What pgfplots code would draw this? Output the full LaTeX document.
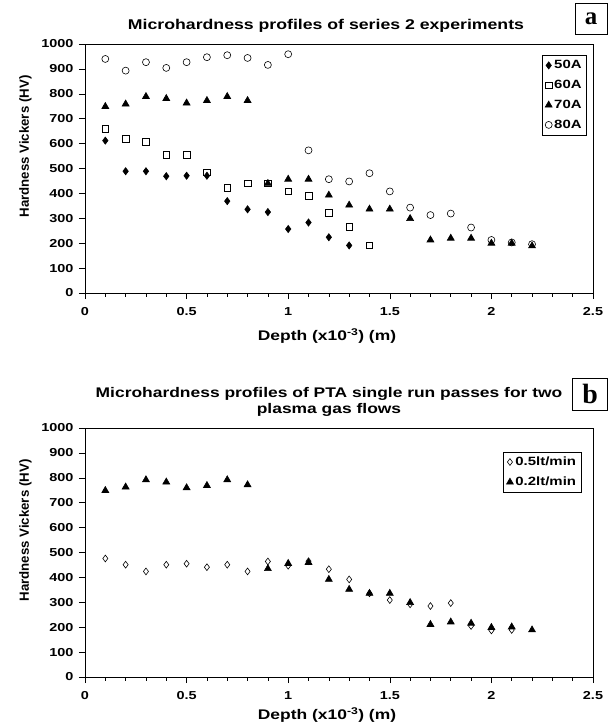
\documentclass[border=0pt]{standalone}
\usepackage{fontspec}
\setmainfont{Liberation Sans}[FakeStretch=1.25]
\newfontfamily\ylabfont{Liberation Sans}
\newfontfamily\panelfont{Liberation Serif}
\usepackage{pgfplots}
\pgfplotsset{compat=1.18}

\pgfplotsset{hv/.style={
  scale only axis, width=508bp, height=249bp,
  xmin=0, xmax=2.5, ymin=0, ymax=1000,
  xtick={0,0.5,1,1.5,2,2.5}, ytick={0,100,...,1000},
  minor x tick num=4,
  xtick pos=bottom, ytick pos=left,
  tick align=outside,
  major tick length=6bp, minor tick length=3.5bp,
  axis line style={line width=0.7pt},
  every tick/.style={black, line width=0.6pt},
  scaled ticks=false,
  /pgf/number format/assume math mode=true,
  /pgf/number format/set thousands separator={},
  tick label style={font=\bfseries\fontsize{11.6}{13}\selectfont},
  xticklabel style={yshift=-5bp},
  yticklabel style={xshift=-2bp},
  ylabel={Hardness Vickers (HV)},
  xlabel={Depth (x10\textsuperscript{-3}) (m)},
  ylabel style={font=\ylabfont\bfseries\fontsize{13.3}{15}\selectfont, xshift=22bp, yshift=3bp},
  title style={align=center},
  only marks,
  mark options={solid, line width=0.6pt},
  legend cell align=left,
  legend style={draw=black, line width=0.6pt, font=\bfseries\fontsize{12}{13}\selectfont,
    anchor=north east, row sep=6bp, inner sep=3bp},
}}

\begin{document}
\begin{tikzpicture}
\path[use as bounding box] (0,0) rectangle (612bp,-728bp);

% panel a
\begin{axis}[hv, at={(85bp,-44bp)}, anchor=north west,
  title={Microhardness profiles of series 2 experiments},
  title style={font=\bfseries\fontsize{14.2}{17}\selectfont, xshift=-13bp, yshift=2bp},
  xlabel style={font=\bfseries\fontsize{14}{16}\selectfont, xshift=-12bp, yshift=-6bp},
  legend style={at={(0.988,0.955)}}]
\addplot[mark=diamond*, mark size=3.6bp, black] coordinates {
 (0.1,612)(0.2,489)(0.3,489)(0.4,469)(0.5,471)(0.6,471)(0.7,369)
 (0.8,336)(0.9,325)(1.0,257)(1.1,283)(1.2,224)(1.3,191)};
\addlegendentry{50A}
\addplot[mark=square, mark size=3.3bp, black] coordinates {
 (0.1,659)(0.2,619)(0.3,607)(0.4,555)(0.5,556)(0.6,484)(0.7,423)
 (0.8,440)(0.9,440)(1.0,409)(1.1,391)(1.2,323)(1.3,267)(1.4,191)};
\addlegendentry{60A}
\addplot[mark=triangle*, mark size=4bp, black] coordinates {
 (0.1,749)(0.2,759)(0.3,789)(0.4,781)(0.5,763)(0.6,773)(0.7,789)(0.8,773)
 (0.9,440)(1.0,457)(1.1,457)(1.2,393)(1.3,353)(1.4,337)(1.5,337)
 (1.6,299)(1.7,213)(1.8,220)(1.9,220)(2.0,200)(2.1,200)(2.2,189)};
\addlegendentry{70A}
\addplot[mark=o, mark size=3.5bp, black] coordinates {
 (0.1,940)(0.2,893)(0.3,927)(0.4,904)(0.5,927)(0.6,947)(0.7,955)
 (0.8,944)(0.9,916)(1.0,959)(1.1,573)(1.2,457)(1.3,448)(1.4,481)
 (1.5,408)(1.6,343)(1.7,313)(1.8,319)(1.9,263)(2.0,213)(2.1,203)(2.2,196)};
\addlegendentry{80A}
\end{axis}
\node[draw=black, line width=0.8pt, minimum width=32bp, minimum height=31bp,
  inner sep=0pt, font=\panelfont\bfseries\fontsize{25}{25}\selectfont]
  at (591bp,-19bp) {a};

% panel b
\begin{axis}[hv, at={(85bp,-428bp)}, anchor=north west,
  title={Microhardness profiles of PTA single run passes for two\\plasma gas flows},
  title style={font=\bfseries\fontsize{14}{16.5}\selectfont, xshift=-10bp, yshift=2bp},
  xlabel style={font=\bfseries\fontsize{14}{16}\selectfont, xshift=-12bp, yshift=-1bp},
  legend style={at={(0.977,0.905)}}]
\addplot[mark=diamond, mark size=3.4bp, black] coordinates {
 (0.1,476)(0.2,451)(0.3,424)(0.4,451)(0.5,455)(0.6,441)(0.7,451)
 (0.8,424)(0.9,464)(1.0,447)(1.1,465)(1.2,433)(1.3,392)(1.4,336)
 (1.5,309)(1.6,292)(1.7,285)(1.8,297)(1.9,205)(2.0,187)(2.1,189)};
\addlegendentry{0.5lt/min}
\addplot[mark=triangle*, mark size=4bp, black] coordinates {
 (0.1,749)(0.2,763)(0.3,792)(0.4,783)(0.5,760)(0.6,769)(0.7,792)(0.8,772)
 (0.9,435)(1.0,456)(1.1,460)(1.2,392)(1.3,352)(1.4,336)(1.5,336)
 (1.6,299)(1.7,211)(1.8,221)(1.9,216)(2.0,199)(2.1,201)(2.2,189)};
\addlegendentry{0.2lt/min}
\end{axis}
\node[draw=black, line width=0.8pt, minimum width=35bp, minimum height=32bp,
  inner sep=0pt, font=\panelfont\bfseries\fontsize{28}{28}\selectfont]
  at (590bp,-394bp) {b};
\end{tikzpicture}
\end{document}
